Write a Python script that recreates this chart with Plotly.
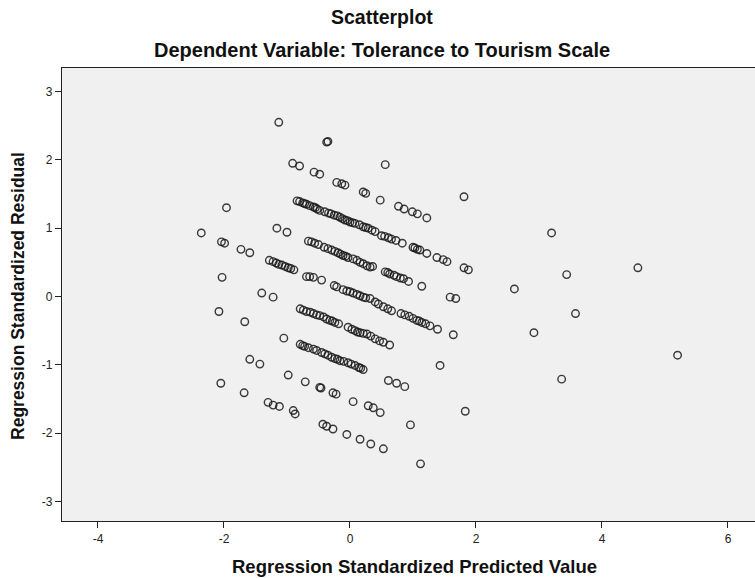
import plotly.graph_objects as go

# Regression diagnostics: standardized predicted value vs standardized residual
predicted = [
    -1.13, -0.37, -0.35, 0.56,
    -0.91, -0.80, -0.57, -0.48, -0.21, -0.13, -0.08, 0.21, 0.25, 0.48,
    0.77, 0.86, 0.99, 1.07, 1.22, 1.81,
    -0.84, -0.75, -0.69, -0.58, -0.48, -0.34, -0.25, -0.16, -0.08, 0.00,
    0.08, 0.21, 0.29, 0.40, 0.50, 0.61, 0.73, 0.83, 1.00, 1.07, 1.11,
    1.22, 1.38, 1.48, 1.54, 1.81, 1.88,
    -0.72, -0.55, -0.40, -0.12, 0.04,
    -0.80, -0.64, -0.52, -0.30, -0.20, -0.04, 0.15, 0.25, 0.35, 0.55,
    0.66, 1.03,
    -0.66, -0.56, -0.41, -0.29, -0.19, -0.11, -0.03, 0.11, 0.21, 0.32,
    0.36, 0.56, 0.63, 0.74, 0.85, 0.93, 1.14, 1.59, 1.68, 2.61,
    -0.35, -0.15, 0.16, 0.70,
    -0.61, -0.50, -0.24, -0.07, 0.05, 0.27, 0.60, 0.80,
    -1.28, -1.17, -1.08, -0.98, -0.89, -0.69, -0.58, -0.45, -0.21, -0.11,
    0.00, 0.11, 0.21, 0.32, 0.40, 0.53, 0.66, 0.81, 0.94, 1.06, 1.14,
    1.27, 1.39, 1.64,
    -1.13, -1.03, -0.25, 0.05, 0.25, 1.10,
    -1.22, -0.94, -0.64, -0.05, 0.16, 0.45, 0.60, 0.87, 1.00, 1.20,
    -1.40, -1.22, -0.79, -0.69, -0.58, -0.48, -0.37, -0.24, -0.03, 0.08,
    0.16, 0.27, 0.40, 0.53, 0.63, 1.43,
    -0.63, -0.42, -0.28, 0.12,
    -0.74, -0.53, -0.32, -0.18, 0.03, 0.21, 0.33, 0.47,
    -1.05, -0.79, -0.66, -0.53, -0.40, -0.29, -0.16, -0.03, 0.08, 0.21,
    0.61, 0.74, 0.87, 1.83,
    -0.72, -0.45, -0.20, -0.10, 0.14,
    -0.75, -0.58, -0.35, -0.24, 0.02, 0.17,
    -1.59, -1.43, -0.98, -0.71, -0.48, -0.46, -0.27, -0.22, 0.05, 0.29,
    0.37, 0.48, 0.96,
    -2.05, -1.68, -1.30, -1.22, -1.12, -0.90, -0.87, -0.43, -0.37, -0.27,
    -0.05, 0.16, 0.33, 0.53, 1.12,
    -1.96, -2.36, -2.04, -1.99, -1.73, -1.59, -1.16, -1.00, -2.03, -2.08,
    -1.67,
    3.20, 4.57, 3.44, 3.58, 2.92, 5.20, 3.36,
]

residual = [
    2.55, 2.26, 2.27, 1.93,
    1.95, 1.91, 1.82, 1.79, 1.67, 1.65, 1.63, 1.53, 1.51, 1.41,
    1.32, 1.28, 1.24, 1.21, 1.15, 1.46,
    1.40, 1.37, 1.35, 1.31, 1.26, 1.22, 1.19, 1.16, 1.12, 1.09,
    1.07, 1.02, 1.00, 0.95, 0.89, 0.86, 0.82, 0.78, 0.72, 0.69, 0.68,
    0.63, 0.57, 0.54, 0.51, 0.42, 0.39,
    1.36, 1.30, 1.24, 1.14, 1.08,
    1.39, 1.33, 1.28, 1.21, 1.18, 1.11, 1.05, 1.01, 0.97, 0.88,
    0.84, 0.71,
    0.81, 0.78, 0.72, 0.68, 0.64, 0.60, 0.57, 0.53, 0.48, 0.43,
    0.44, 0.36, 0.33, 0.29, 0.26, 0.22, 0.15, -0.01, -0.03, 0.11,
    0.70, 0.62, 0.50, 0.31,
    0.80, 0.76, 0.66, 0.59, 0.55, 0.45, 0.35, 0.27,
    0.53, 0.49, 0.46, 0.42, 0.39, 0.29, 0.28, 0.24, 0.14, 0.10,
    0.07, 0.03, -0.01, -0.03, -0.08, -0.15, -0.21, -0.25, -0.29, -0.35, -0.38,
    -0.43, -0.48, -0.56,
    0.47, 0.44, 0.16, 0.05, -0.02, -0.36,
    0.51, 0.41, 0.29, 0.08, 0.01, -0.11, -0.18, -0.27, -0.32, -0.40,
    0.05, -0.01, -0.18, -0.22, -0.25, -0.28, -0.33, -0.38, -0.45, -0.50,
    -0.53, -0.55, -0.62, -0.67, -0.71, -1.01,
    -0.23, -0.30, -0.36, -0.52,
    -0.20, -0.27, -0.35, -0.40, -0.48, -0.54, -0.58, -0.65,
    -0.61, -0.70, -0.75, -0.79, -0.84, -0.89, -0.94, -0.97, -1.01, -1.07,
    -1.23, -1.27, -1.32, -1.68,
    -0.73, -0.82, -0.92, -0.95, -1.04,
    -0.72, -0.77, -0.86, -0.91, -0.99, -1.05,
    -0.92, -0.99, -1.15, -1.25, -1.33, -1.34, -1.41, -1.43, -1.54, -1.60,
    -1.63, -1.70, -1.88,
    -1.27, -1.41, -1.55, -1.59, -1.61, -1.67, -1.72, -1.87, -1.90, -1.94,
    -2.02, -2.09, -2.16, -2.23, -2.45,
    1.30, 0.93, 0.80, 0.78, 0.69, 0.64, 1.00, 0.94, 0.28, -0.22,
    -0.37,
    0.93, 0.42, 0.32, -0.25, -0.53, -0.86, -1.21,
]

x_ticks = [-4, -2, 0, 2, 4, 6]
x_tick_labels = ["-4", "-2", "0", "2", "4", "6"]
y_ticks = [-3, -2, -1, 0, 1, 2, 3]
y_tick_labels = ["-3", "-2", "-1", "0", "1", "2", "3"]

chart_title = "Scatterplot"
chart_subtitle = "Dependent Variable: Tolerance to Tourism Scale"
x_label = "Regression Standardized Predicted Value"
y_label = "Regression Standardized Residual"

FONT = "Liberation Sans, Arial, sans-serif"

fig = go.Figure(
    go.Scatter(
        x=predicted,
        y=residual,
        mode="markers",
        marker=dict(
            symbol="circle-open",
            size=7.5,
            color="rgba(25,25,25,0.85)",
            line=dict(width=1.4),
        ),
        hoverinfo="x+y",
    )
)

axis_common = dict(
    showgrid=False,
    zeroline=False,
    showline=True,
    linecolor="#222222",
    linewidth=1.2,
    ticks="outside",
    ticklen=6,
    tickwidth=1.2,
    tickcolor="#222222",
    tickfont=dict(family=FONT, size=12, color="#222222"),
)

fig.update_layout(
    width=755,
    height=578,
    margin=dict(l=62, r=0, t=68, b=57),
    paper_bgcolor="white",
    plot_bgcolor="#F0F0F0",
    showlegend=False,
    xaxis=dict(range=[-4.571, 6.429], tickvals=x_ticks, ticktext=x_tick_labels,
               mirror=True, **axis_common),
    yaxis=dict(range=[-3.287, 3.345], tickvals=y_ticks, ticktext=y_tick_labels,
               **axis_common),
    annotations=[
        dict(text=f"<b>{chart_title}</b>", xref="paper", yref="paper",
             x=0.4618, y=1.1126, showarrow=False, xanchor="center", yanchor="middle",
             font=dict(family=FONT, size=19.5, color="#111111")),
        dict(text=f"<b>{chart_subtitle}</b>", xref="paper", yref="paper",
             x=0.4618, y=1.0397, showarrow=False, xanchor="center", yanchor="middle",
             font=dict(family=FONT, size=20, color="#111111")),
        dict(text=f"<b>{x_label}</b>", xref="paper", yref="paper",
             x=0.508, y=-0.1015, showarrow=False, xanchor="center", yanchor="middle",
             font=dict(family=FONT, size=18.5, color="#111111")),
        dict(text=f"<b>{y_label}</b>", xref="paper", yref="paper",
             x=-0.0635, y=0.4967, showarrow=False, xanchor="center", yanchor="middle",
             textangle=-90,
             font=dict(family=FONT, size=17.5, color="#111111")),
    ],
)

fig.write_html("out.html")
